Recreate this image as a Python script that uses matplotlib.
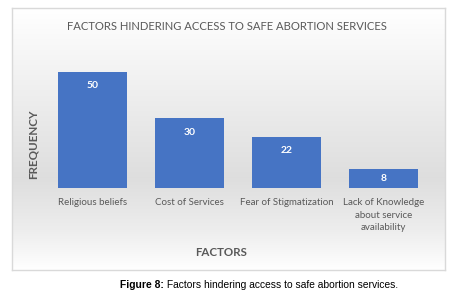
import numpy as np
import matplotlib.pyplot as plt

categories = ["Religious beliefs", "Cost of Services", "Fear of Stigmatization",
              "Lack of Knowledge\nabout service\navailability"]
frequency = [50, 30, 22, 8]

W, H = 464, 306
fig = plt.figure(figsize=(W / 100, H / 100), dpi=100)
fig.patch.set_facecolor("white")

# chart box with a vertical gradient background
bx0, bx1, by0, by1 = 12, 445, 8, 270
bg = fig.add_axes([bx0 / W, 1 - by1 / H, (bx1 - bx0) / W, (by1 - by0) / H])
t = np.linspace(0, 1, 200)
shade = np.interp(t, [0, 0.15, 0.65, 0.85, 1.0], [1.0, 0.97, 0.87, 0.93, 1.0])
img = np.repeat(shade[:, None], 2, axis=1)
bg.imshow(np.dstack([img, img, img]), aspect="auto", extent=[0, 1, 0, 1], origin="upper")
bg.set_xlim(0, 1)
bg.set_ylim(0, 1)
bg.set_xticks([])
bg.set_yticks([])
for s in bg.spines.values():
    s.set_color("#d9d9d9")
    s.set_linewidth(1)

# plotting axes
ax_left, ax_right = 44, 432
ax_top, ax_bot = 60.4, 188
ax = fig.add_axes([ax_left / W, 1 - ax_bot / H, (ax_right - ax_left) / W, (ax_bot - ax_top) / H])
ax.patch.set_alpha(0)
x = np.arange(len(categories))
bars = ax.bar(x, frequency, width=0.71, color="#4674c4", zorder=3)
ax.set_xlim(-0.5, 3.5)
ax.set_ylim(0, 55)
ax.set_yticks([])
ax.set_xticks(x)
ax.set_xticklabels(categories, fontsize=7, color="#595959", family="Lato",
                   linespacing=1.55)
ax.tick_params(axis="x", length=0, pad=7)
for s in ax.spines.values():
    s.set_visible(False)

for xi, v in zip(x, frequency):
    ax.text(xi, v - min(6.0, v / 2), str(v), ha="center", va="center", color="white",
            fontsize=7.5, fontweight="bold", family="Lato")

fig.text(227 / W, 1 - 26 / H, "FACTORS HINDERING ACCESS TO SAFE ABORTION SERVICES",
         ha="center", va="center", fontsize=8.1, color="#595959", family="Lato")
fig.text(33 / W, 1 - 144 / H, "FREQUENCY", rotation=90, ha="center", va="center",
         fontsize=8.4, fontweight="bold", color="#595959", family="Lato")
fig.text(221 / W, 1 - 252 / H, "FACTORS", ha="center", va="center",
         fontsize=8.3, fontweight="bold", color="#595959", family="Lato")

# caption: bold prefix followed by normal text
cap_y = 1 - 285 / H
t1 = fig.text(120 / W, cap_y, "Figure 8:", ha="left", va="center", fontsize=7.35,
              fontweight="bold", family="Liberation Sans", color="black")
fig.canvas.draw()
bb = t1.get_window_extent(renderer=fig.canvas.get_renderer())
fig.text(bb.x1 / W, cap_y, " Factors hindering access to safe abortion services.",
         ha="left", va="center", fontsize=7.35, family="Liberation Sans", color="black")

fig.savefig("out.png", dpi=100)
